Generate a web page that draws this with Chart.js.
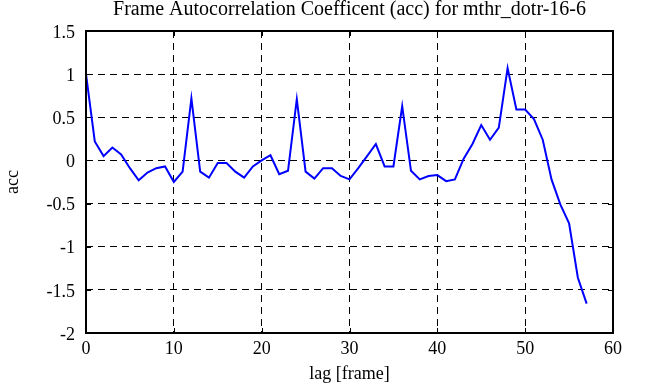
<!DOCTYPE html>
<html>
<head>
<meta charset="utf-8">
<script src="https://cdn.jsdelivr.net/npm/chart.js@4.4.1/dist/chart.umd.min.js"></script>
<style>
  html, body { margin: 0; padding: 0; background: #fff; }
  #wrap { width: 646px; height: 387px; }
</style>
</head>
<body>
<div id="wrap"><canvas id="acc"></canvas></div>
<script>
'use strict';

// lag values (frames) and autocorrelation
const lags = [0, 1, 2, 3, 4, 5, 6, 7, 8, 9, 10, 11, 12, 13, 14, 15, 16, 17, 18, 19,
    20, 21, 22, 23, 24, 25, 26, 27, 28, 29, 30, 31, 32, 33, 34, 35, 36, 37, 38, 39,
    40, 41, 42, 43, 44, 45, 46, 47, 48, 49, 50, 51, 52, 53, 54, 55, 56, 57];
const accValues = [1.0, 0.22, 0.05, 0.15, 0.07, -0.09, -0.23, -0.14, -0.09, -0.07,
    -0.25, -0.13, 0.72, -0.13, -0.2, -0.03, -0.03, -0.13, -0.2, -0.07,
    0.0, 0.06, -0.16, -0.12, 0.71, -0.13, -0.21, -0.09, -0.09, -0.18,
    -0.22, -0.09, 0.05, 0.19, -0.07, -0.07, 0.63, -0.12, -0.22, -0.18,
    -0.17, -0.24, -0.22, 0.02, 0.19, 0.41, 0.24, 0.38, 1.07, 0.59,
    0.59, 0.48, 0.24, -0.22, -0.51, -0.73, -1.36, -1.66];
const xTicks = [0, 10, 20, 30, 40, 50, 60];
const yTicks = [-2, -1.5, -1, -0.5, 0, 0.5, 1, 1.5];
const titleText = 'Frame Autocorrelation Coefficent (acc) for mthr_dotr-16-6';

const serif = "'Liberation Serif', 'DejaVu Serif', serif";
const dash = [7, 5];

// matlab-style frame with inward tick marks, title centred over the axes
const frameTicks = {
    id: 'frameTicks',
    afterDraw(chart) {
        const { ctx, chartArea: a, scales } = chart;
        const len = 5;
        ctx.save();
        ctx.strokeStyle = '#000';
        ctx.lineWidth = 1;
        ctx.setLineDash([]);
        ctx.beginPath();
        xTicks.forEach(v => {
            const x = Math.round(scales.x.getPixelForValue(v)) + 0.5;
            ctx.moveTo(x, a.bottom); ctx.lineTo(x, a.bottom - len);
            ctx.moveTo(x, a.top); ctx.lineTo(x, a.top + len);
        });
        yTicks.forEach(v => {
            const y = Math.round(scales.y.getPixelForValue(v)) + 0.5;
            ctx.moveTo(a.left, y); ctx.lineTo(a.left + len, y);
            ctx.moveTo(a.right, y); ctx.lineTo(a.right - len, y);
        });
        ctx.stroke();
        ctx.lineWidth = 2;
        ctx.strokeRect(a.left, a.top, a.right - a.left, a.bottom - a.top);

        ctx.fillStyle = '#000';
        ctx.font = '20px ' + serif;
        ctx.textAlign = 'center';
        ctx.textBaseline = 'alphabetic';
        ctx.fillText(titleText, (a.left + a.right) / 2, 15);
        ctx.restore();
    }
};

new Chart(document.getElementById('acc'), {
    type: 'line',
    data: {
        datasets: [{
            data: lags.map((l, i) => ({ x: l, y: accValues[i] })),
            borderColor: '#0000ff',
            borderWidth: 2,
            pointRadius: 0,
            tension: 0,
            fill: false,
        }],
    },
    options: {
        responsive: true,
        maintainAspectRatio: false,
        animation: false,
        layout: { padding: { left: 0, right: 33, top: 31, bottom: 0 } },
        plugins: {
            legend: { display: false },
            tooltip: { enabled: false },
            title: { display: false },
        },
        scales: {
            x: {
                type: 'linear',
                min: 0, max: 60,
                afterBuildTicks: s => { s.ticks = xTicks.map(v => ({ value: v })); },
                afterFit: s => { s.height = 54; },
                ticks: { color: '#000', font: { family: serif, size: 18 }, padding: 5, maxRotation: 0 },
                grid: { color: '#000', lineWidth: 1, drawTicks: false },
                border: { display: false, dash },
                title: {
                    display: true, text: 'lag [frame]', color: '#000',
                    font: { family: serif, size: 18 }, padding: { top: 0, bottom: 2 },
                },
            },
            y: {
                type: 'linear',
                min: -2, max: 1.5,
                afterBuildTicks: s => { s.ticks = yTicks.map(v => ({ value: v })); },
                afterFit: s => { s.width = 86; },
                ticks: {
                    color: '#000', font: { family: serif, size: 18 }, padding: 11, labelOffset: 2,
                    callback: v => String(v),
                },
                grid: { color: '#000', lineWidth: 1, drawTicks: false },
                border: { display: false, dash },
                title: {
                    display: true, text: 'acc', color: '#000',
                    font: { family: serif, size: 18 }, padding: { top: 2, bottom: 2 },
                },
            },
        },
    },
    plugins: [frameTicks],
});
</script>
</body>
</html>
